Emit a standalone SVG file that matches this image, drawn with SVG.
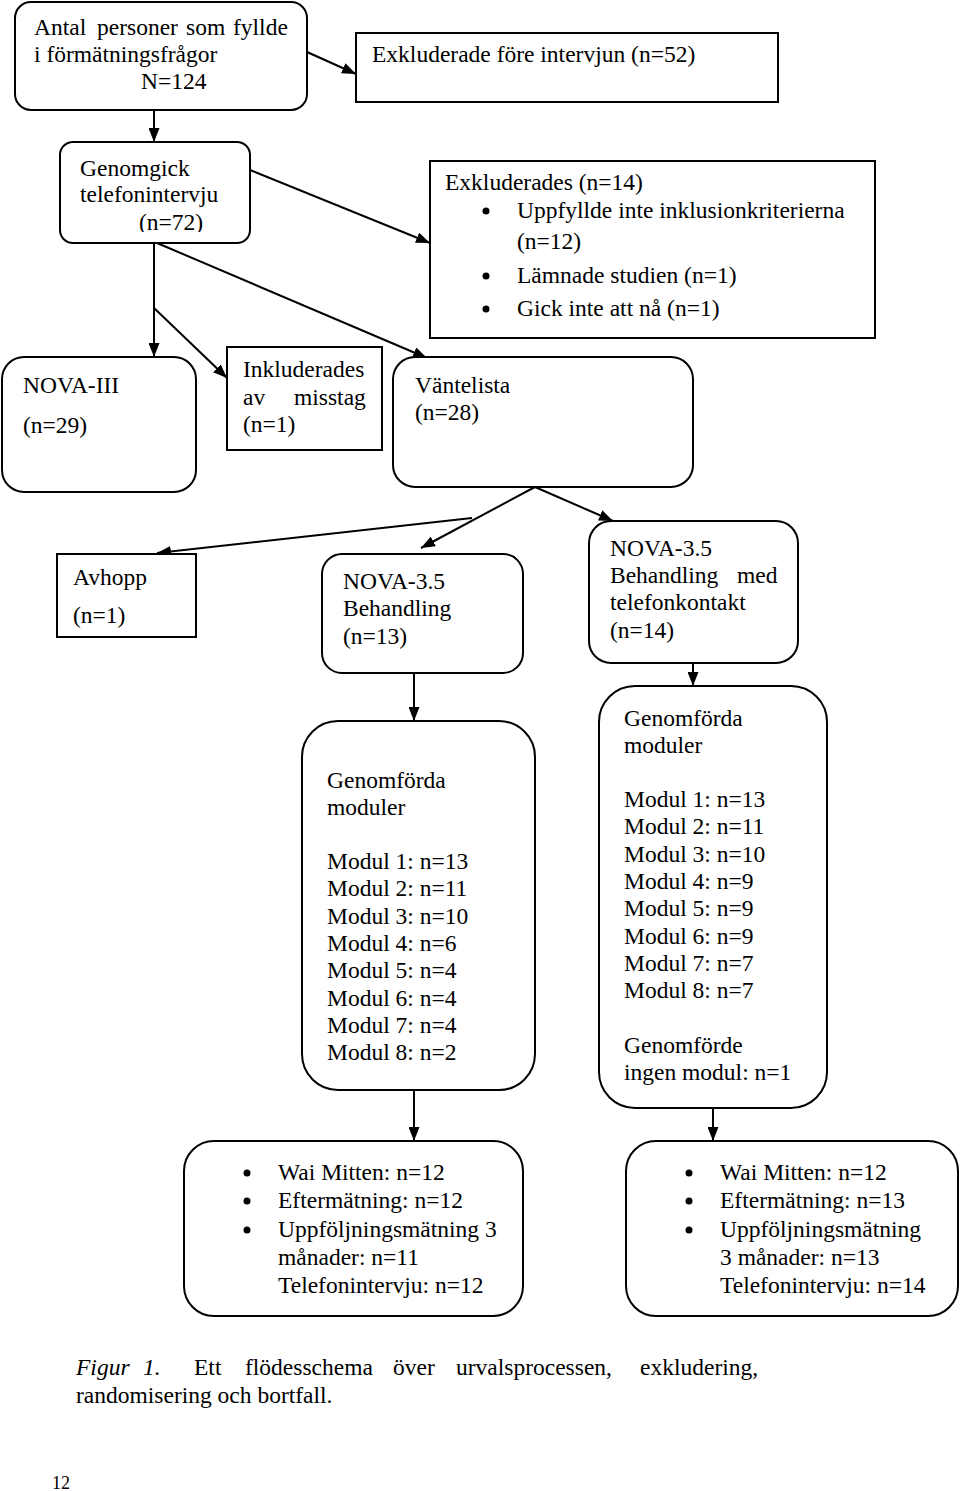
<svg xmlns="http://www.w3.org/2000/svg" width="960" height="1491" viewBox="0 0 960 1491">
<style>
  .box{fill:#fff;stroke:#000;stroke-width:2}
  .t{font-family:"Liberation Serif","Times New Roman",serif;font-size:23.5px;fill:#000}
  .c{stroke:#000;stroke-width:2;fill:none;marker-end:url(#ah)}
  .b{fill:#000}
</style>
<defs>
  <marker id="ah" viewBox="0 0 14 11" refX="14" refY="5.5" markerWidth="14" markerHeight="11" markerUnits="userSpaceOnUse" orient="auto">
    <path d="M0,0 L14,5.5 L0,11 z" fill="#000"/>
  </marker>
  <clipPath id="clipG"><rect x="60" y="142" width="190" height="90"/></clipPath>
</defs>
<rect width="960" height="1491" fill="#fff"/>

<g id="connectors">
  <line class="c" x1="307" y1="52" x2="356" y2="74"/>
  <line class="c" x1="154" y1="110" x2="154" y2="142"/>
  <line class="c" x1="250" y1="170" x2="430" y2="243"/>
  <line class="c" x1="154" y1="243" x2="154" y2="357"/>
  <line class="c" x1="154" y1="308" x2="227" y2="378"/>
  <line class="c" x1="157" y1="243" x2="427" y2="358"/>
  <line class="c" x1="535" y1="487" x2="421" y2="548"/>
  <line class="c" x1="472" y1="518" x2="157" y2="553"/>
  <line class="c" x1="535" y1="487" x2="613" y2="521"/>
  <line class="c" x1="414" y1="673" x2="414" y2="721"/>
  <line class="c" x1="693" y1="663" x2="693" y2="686"/>
  <line class="c" x1="414" y1="1090" x2="414" y2="1141"/>
  <line class="c" x1="713" y1="1108" x2="713" y2="1141"/>
</g>

<g id="n-antal">
  <rect class="box" x="15" y="2" width="292" height="108" rx="16"/>
  <text class="t" y="35"><tspan x="34">Antal</tspan><tspan x="97">personer</tspan><tspan x="186">som</tspan><tspan x="233">fyllde</tspan></text>
  <text class="t" x="34" y="62">i förmätningsfrågor</text>
  <text class="t" x="141" y="89">N=124</text>
</g>

<g id="n-exkl52">
  <rect class="box" x="356" y="33" width="422" height="69"/>
  <text class="t" x="372" y="62">Exkluderade före intervjun (n=52)</text>
</g>

<g id="n-genomgick">
  <rect class="box" x="60" y="142" width="190" height="101" rx="13"/>
  <g clip-path="url(#clipG)">
    <text class="t" x="80" y="176">Genomgick</text>
    <text class="t" x="80" y="202">telefonintervju</text>
    <text class="t" x="139" y="230">(n=72)</text>
  </g>
</g>

<g id="n-exkl14">
  <rect class="box" x="430" y="161" width="445" height="177"/>
  <text class="t" x="445" y="190">Exkluderades (n=14)</text>
  <circle class="b" cx="486" cy="211" r="3.5"/>
  <text class="t" x="517" y="218">Uppfyllde inte inklusionkriterierna</text>
  <text class="t" x="517" y="249">(n=12)</text>
  <circle class="b" cx="486" cy="276" r="3.5"/>
  <text class="t" x="517" y="283">Lämnade studien (n=1)</text>
  <circle class="b" cx="486" cy="309" r="3.5"/>
  <text class="t" x="517" y="316">Gick inte att nå (n=1)</text>
</g>

<g id="n-nova3">
  <rect class="box" x="2" y="357" width="194" height="135" rx="22"/>
  <text class="t" x="23" y="393">NOVA-III</text>
  <text class="t" x="23" y="433">(n=29)</text>
</g>

<g id="n-inkl">
  <rect class="box" x="227" y="347" width="155" height="103"/>
  <text class="t" x="243" y="377">Inkluderades</text>
  <text class="t" y="405"><tspan x="243">av</tspan><tspan x="294">misstag</tspan></text>
  <text class="t" x="243" y="432">(n=1)</text>
</g>

<g id="n-vantelista">
  <rect class="box" x="393" y="357" width="300" height="130" rx="22"/>
  <text class="t" x="415" y="393">Väntelista</text>
  <text class="t" x="415" y="420">(n=28)</text>
</g>

<g id="n-avhopp">
  <rect class="box" x="57" y="554" width="139" height="83"/>
  <text class="t" x="73" y="585">Avhopp</text>
  <text class="t" x="73" y="623">(n=1)</text>
</g>

<g id="n-nova35">
  <rect class="box" x="322" y="554" width="201" height="119" rx="20"/>
  <text class="t" x="343" y="589">NOVA-3.5</text>
  <text class="t" x="343" y="616">Behandling</text>
  <text class="t" x="343" y="644">(n=13)</text>
</g>

<g id="n-nova35tel">
  <rect class="box" x="589" y="521" width="209" height="142" rx="22"/>
  <text class="t" x="610" y="556">NOVA-3.5</text>
  <text class="t" y="583"><tspan x="610">Behandling</tspan><tspan x="737">med</tspan></text>
  <text class="t" x="610" y="610">telefonkontakt</text>
  <text class="t" x="610" y="638">(n=14)</text>
</g>

<g id="n-mod-left">
  <rect class="box" x="302" y="721" width="233" height="369" rx="36"/>
  <text class="t" x="327" y="788">Genomförda</text>
  <text class="t" x="327" y="815">moduler</text>
  <text class="t" x="327" y="869">Modul 1: n=13</text>
  <text class="t" x="327" y="896">Modul 2: n=11</text>
  <text class="t" x="327" y="924">Modul 3: n=10</text>
  <text class="t" x="327" y="951">Modul 4: n=6</text>
  <text class="t" x="327" y="978">Modul 5: n=4</text>
  <text class="t" x="327" y="1006">Modul 6: n=4</text>
  <text class="t" x="327" y="1033">Modul 7: n=4</text>
  <text class="t" x="327" y="1060">Modul 8: n=2</text>
</g>

<g id="n-mod-right">
  <rect class="box" x="599" y="686" width="228" height="422" rx="36"/>
  <text class="t" x="624" y="726">Genomförda</text>
  <text class="t" x="624" y="753">moduler</text>
  <text class="t" x="624" y="807">Modul 1: n=13</text>
  <text class="t" x="624" y="834">Modul 2: n=11</text>
  <text class="t" x="624" y="862">Modul 3: n=10</text>
  <text class="t" x="624" y="889">Modul 4: n=9</text>
  <text class="t" x="624" y="916">Modul 5: n=9</text>
  <text class="t" x="624" y="944">Modul 6: n=9</text>
  <text class="t" x="624" y="971">Modul 7: n=7</text>
  <text class="t" x="624" y="998">Modul 8: n=7</text>
  <text class="t" x="624" y="1053">Genomförde</text>
  <text class="t" x="624" y="1080">ingen modul: n=1</text>
</g>

<g id="n-result-left">
  <rect class="box" x="184" y="1141" width="339" height="175" rx="30"/>
  <circle class="b" cx="247" cy="1173" r="3.5"/>
  <text class="t" x="278" y="1180">Wai Mitten: n=12</text>
  <circle class="b" cx="247" cy="1201" r="3.5"/>
  <text class="t" x="278" y="1208">Eftermätning: n=12</text>
  <circle class="b" cx="247" cy="1230" r="3.5"/>
  <text class="t" x="278" y="1237">Uppföljningsmätning 3</text>
  <text class="t" x="278" y="1265">månader: n=11</text>
  <text class="t" x="278" y="1293">Telefonintervju: n=12</text>
</g>

<g id="n-result-right">
  <rect class="box" x="626" y="1141" width="332" height="175" rx="30"/>
  <circle class="b" cx="689" cy="1173" r="3.5"/>
  <text class="t" x="720" y="1180">Wai Mitten: n=12</text>
  <circle class="b" cx="689" cy="1201" r="3.5"/>
  <text class="t" x="720" y="1208">Eftermätning: n=13</text>
  <circle class="b" cx="689" cy="1230" r="3.5"/>
  <text class="t" x="720" y="1237">Uppföljningsmätning</text>
  <text class="t" x="720" y="1265">3 månader: n=13</text>
  <text class="t" x="720" y="1293">Telefonintervju: n=14</text>
</g>

<g id="caption">
  <text class="t" y="1375"><tspan x="76" font-style="italic">Figur</tspan><tspan x="143" font-style="italic">1.</tspan><tspan x="194">Ett</tspan><tspan x="245">flödesschema</tspan><tspan x="393">över</tspan><tspan x="456">urvalsprocessen,</tspan><tspan x="640">exkludering,</tspan></text>
  <text class="t" x="76" y="1403">randomisering och bortfall.</text>
  <text class="t" x="52" y="1489" style="font-size:18px">12</text>
</g>
</svg>
